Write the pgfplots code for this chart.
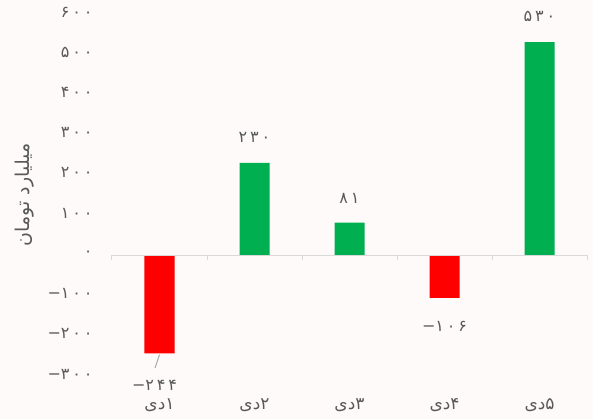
\documentclass[border=0pt]{standalone}
\usepackage{pgfplots}
\pgfplotsset{compat=1.18}
\usepackage{pgfplotstable}
\usepackage{fontspec}
\setmainfont{DejaVu Sans}
\newfontfamily\fa[Script=Arabic]{DejaVu Sans}
\newfontfamily\fanum[Script=Arabic, LetterSpace=18]{DejaVu Sans}
\TeXXeTstate=1
\newcommand\mneg[1]{{\normalfont −}#1}

\definecolor{bgcol}{RGB}{253,250,249}
\definecolor{txt}{HTML}{595959}
\definecolor{axisgray}{HTML}{D9D9D9}
\definecolor{leader}{HTML}{A6A6A6}
\definecolor{gainc}{HTML}{00B050}
\definecolor{lossc}{HTML}{FF0000}

% daily net flow, billion tomans; dx/dy place the value labels
\pgfplotstableread{
x y lab dx dy
1 230 ۲۳۰ 0 25
2 81 ۸۱ 0 24
4 530 ۵۳۰ 0 26
}\gains
\pgfplotstableread{
x y lab dx dy
0 -244 \mneg{۲۴۴} -5 -32
3 -106 \mneg{۱۰۶} 0 -28
}\losses

\begin{document}
\begin{tikzpicture}
\path[use as bounding box, fill=bgcol] (-112pt,-45pt) rectangle (481pt,374pt);
\begin{axis}[
  scale only axis, width=475pt, height=362pt,
  at={(0pt,-2pt)}, anchor=south west,
  xmin=-0.5, xmax=4.5, ymin=-300, ymax=600,
  clip=false,
  axis line style={draw=none},
  major tick length=0pt,
  xtick={0,1,2,3,4},
  xticklabels={{\beginR ۱دی\endR},{\beginR ۲دی\endR},{\beginR ۳دی\endR},{\beginR ۴دی\endR},{\beginR ۵دی\endR}},
  ytick={-300,-200,-100,0,100,200,300,400,500,600},
  yticklabels={\mneg{۳۰۰},\mneg{۲۰۰},\mneg{۱۰۰},۰,۱۰۰,۲۰۰,۳۰۰,۴۰۰,۵۰۰,۶۰۰},
  yticklabel style={font=\fanum\fontsize{16}{18}\selectfont, text=txt,
    xshift=-16pt, yshift=2pt},
  xticklabel style={font=\fa\fontsize{17}{19}\selectfont, text=txt,
    anchor=center, yshift=-29pt},
  ylabel={\beginR میلیارد تومان\endR},
  ylabel style={at={(axis description cs:-0.183,0.5)}, anchor=center,
    font=\fa\fontsize{19}{21}\selectfont, text=txt},
  ybar, bar width=30pt,
  nodes near coords,
  point meta=explicit symbolic,
  visualization depends on={\thisrow{dx} \as \lx},
  visualization depends on={\thisrow{dy} \as \ly},
  nodes near coords style={anchor=center, xshift=\lx pt, yshift=\ly pt,
    font=\fanum\fontsize{16}{18}\selectfont, text=txt},
]
\addplot[fill=gainc, draw=none, bar shift=0pt] table[x=x, y=y, meta=lab] {\gains};
\addplot[fill=lossc, draw=none, bar shift=0pt] table[x=x, y=y, meta=lab] {\losses};
% zero line with category separators
\draw[axisgray, line width=1.5pt] (axis cs:-0.5,0) -- (axis cs:4.5,0);
\draw[axisgray, line width=1pt] (axis cs:-0.5,0) -- ++(0pt,-5pt);
\draw[axisgray, line width=1pt] (axis cs:0.5,0) -- ++(0pt,-5pt);
\draw[axisgray, line width=1pt] (axis cs:1.5,0) -- ++(0pt,-5pt);
\draw[axisgray, line width=1pt] (axis cs:2.5,0) -- ++(0pt,-5pt);
\draw[axisgray, line width=1pt] (axis cs:3.5,0) -- ++(0pt,-5pt);
\draw[axisgray, line width=1pt] (axis cs:4.5,0) -- ++(0pt,-5pt);
% leader line to the first label
\draw[leader, line width=1pt] (axis cs:0,-247) -- (axis cs:-0.047,-280);
\end{axis}
\end{tikzpicture}
\end{document}
